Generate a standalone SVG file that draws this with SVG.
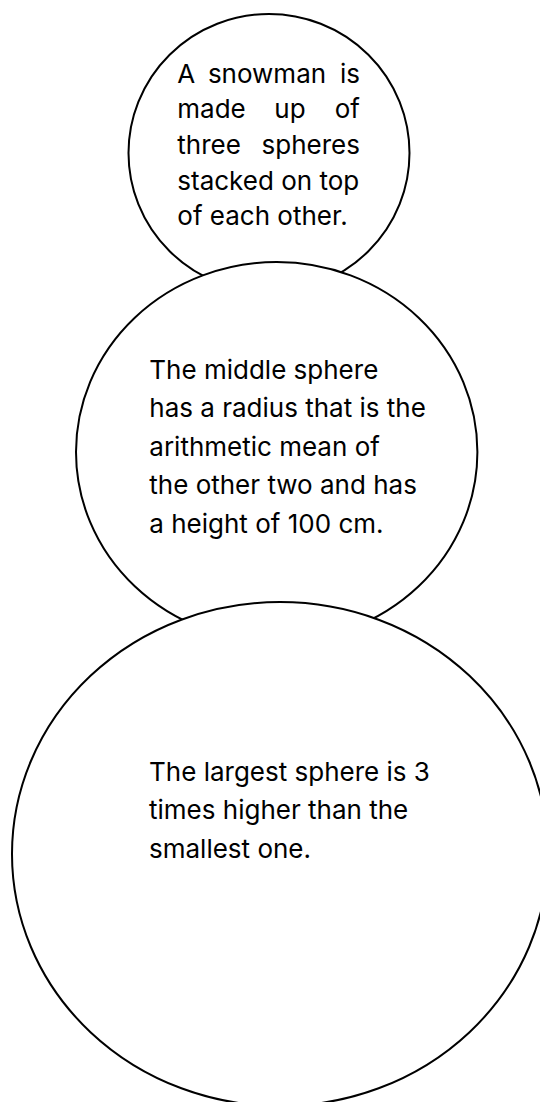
<svg xmlns="http://www.w3.org/2000/svg" width="540" height="1102" viewBox="0 0 540 1102">
<style>
.sphere{fill:#ffffff;stroke:#000000;stroke-width:2}
.t{font-family:Inter,"Liberation Sans",Arial,sans-serif;font-size:26px;fill:#000000}
.m{text-anchor:middle}
.e{text-anchor:end}
</style>
<rect x="0" y="0" width="540" height="1102" fill="#ffffff"/>
<g id="connectors"></g>
<g id="small-sphere">
<ellipse class="sphere" cx="269" cy="153" rx="140.5" ry="139"/>
<text class="t"><tspan x="177.3" y="82.7">A</tspan><tspan class="m" x="267" y="82.7">snowman</tspan><tspan class="e" x="360" y="82.7">is</tspan><tspan x="177.3" y="118.3">made</tspan><tspan class="m" x="290" y="118.3">up</tspan><tspan class="e" x="360" y="118.3">of</tspan><tspan x="177.3" y="153.9">three</tspan><tspan class="e" x="360" y="153.9">spheres</tspan><tspan x="177.3" y="189.5">stacked on top</tspan><tspan x="177.3" y="225.1">of each other.</tspan></text>
</g>
<g id="middle-sphere">
<ellipse class="sphere" cx="276.7" cy="452" rx="200.7" ry="190"/>
<text class="t"><tspan x="149.3" y="378.5">The middle sphere</tspan><tspan x="149.3" y="417">has a radius that is the</tspan><tspan x="149.3" y="455.5">arithmetic mean of</tspan><tspan x="149.3" y="494">the other two and has</tspan><tspan x="149.3" y="532.5">a height of 100 cm.</tspan></text>
</g>
<g id="large-sphere">
<ellipse class="sphere" cx="280" cy="854" rx="268" ry="252"/>
<text class="t"><tspan x="149" y="780.5">The largest sphere is 3</tspan><tspan x="149" y="819">times higher than the</tspan><tspan x="149" y="857.5">smallest one.</tspan></text>
</g>
</svg>
